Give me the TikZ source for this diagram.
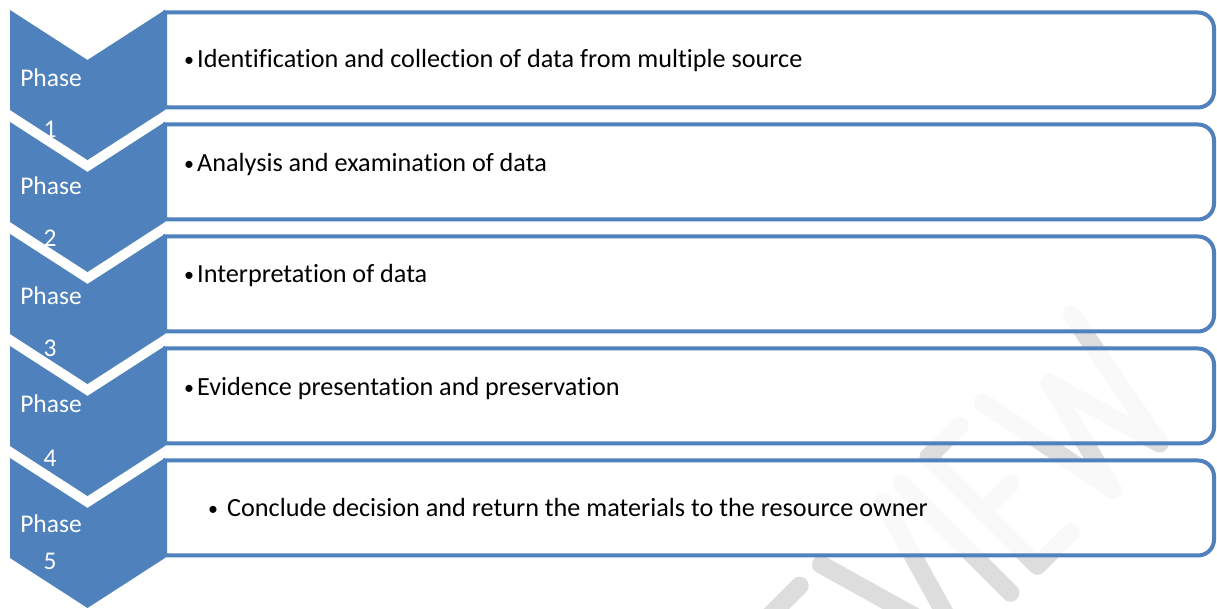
\documentclass[tikz,border=0pt]{standalone}
\usepackage{fontspec}
\setmainfont{Carlito}[Ligatures=NoCommon]
\definecolor{accblue}{HTML}{4F81BD}
\definecolor{wmgray}{HTML}{DDDDDD}
\newcommand{\smallbul}{\raisebox{1.8pt}{\fontsize{20}{20}\selectfont •}}
\begin{document}
\begin{tikzpicture}[x=1pt,y=1pt,
  chev/.style={fill=accblue},
  boxline/.style={draw=accblue,line width=4pt,fill=white,fill opacity=0.85},
  phase/.style={text=white,font=\fontsize{25.5}{30}\selectfont,anchor=base,inner sep=0pt},
  item/.style={text=black,font=\fontsize{26.2}{30}\selectfont,anchor=base west,inner sep=0pt},
  wmstroke/.style={draw=wmgray,line width=18pt,line cap=round,line join=round}]
\useasboundingbox (0,0) rectangle (1217,609);
\clip (0,0) rectangle (1217,609);
\fill[white] (0,0) rectangle (1217,609);
% faint watermark (drawn as strokes, rotated 45 degrees)
\begin{scope}[rotate=45]
  % P
  \draw[wmstroke] (375,-703) -- (375,-549) -- (395,-549) arc[start angle=90,end angle=-90,radius=38.5] -- (375,-626);
  % R
  \draw[wmstroke] (453,-703) -- (453,-549) -- (470,-549) arc[start angle=90,end angle=-90,radius=38.5] -- (453,-626);
  \draw[wmstroke] (478,-626) -- (503,-703);
  % E
  \draw[wmstroke] (582,-549) -- (538,-549) -- (538,-703) -- (582,-703);
  \draw[wmstroke] (538,-626) -- (577,-626);
  % V
  \draw[wmstroke] (612,-549) -- (656,-703) -- (700,-549);
  % I
  \draw[wmstroke] (726,-549) -- (726,-703);
  % E
  \draw[wmstroke] (808,-549) -- (764,-549) -- (764,-703) -- (811,-703);
  \draw[wmstroke] (764,-626) -- (803,-626);
  % W
  \draw[wmstroke] (841,-549) -- (871,-703) -- (902,-582) -- (937,-703) -- (966,-549);
\end{scope}
\foreach \k in {1,...,5}{
  \pgfmathsetmacro\yt{609-12.5-112*(\k-1)}
  \pgfmathsetmacro\yb{\yt-95}
  \draw[boxline] (165,\yt) -- (1198,\yt) arc[start angle=90,end angle=0,radius=16]
     -- (1214,\yb+16) arc[start angle=0,end angle=-90,radius=16] -- (165,\yb) -- cycle;
}
\node[item] (t1) at (184,609-68) {\makebox[13pt][l]{\smallbul}Identification and collection of data from multiple source};
\node[item] (t2) at (184,609-172) {\makebox[13pt][l]{\smallbul}Analysis and examination of data};
\node[item] (t3) at (184,609-283) {\makebox[13pt][l]{\smallbul}Interpretation of data};
\node[item] (t4) at (184,609-396) {\makebox[13pt][l]{\smallbul}Evidence presentation and preservation};
\node[item] (t5) at (208,609-517) {\makebox[19pt][l]{\smallbul}Conclude decision and return the materials to the resource owner};
\foreach \k/\pb/\nb in {1/87/138,2/195/247,3/305/357,4/413/467,5/533/570}{
  \pgfmathsetmacro\T{609-10-112*(\k-1)}
  \fill[chev] (10,\T) -- (87.5,\T-50) -- (165,\T) -- (165,\T-100) -- (87.5,\T-150) -- (10,\T-100) -- cycle;
  \node[phase] (ph\k) at (51,609-\pb) {Phase};
  \node[phase] (num\k) at (50,609-\nb) {\k};
}
\end{tikzpicture}
\end{document}
